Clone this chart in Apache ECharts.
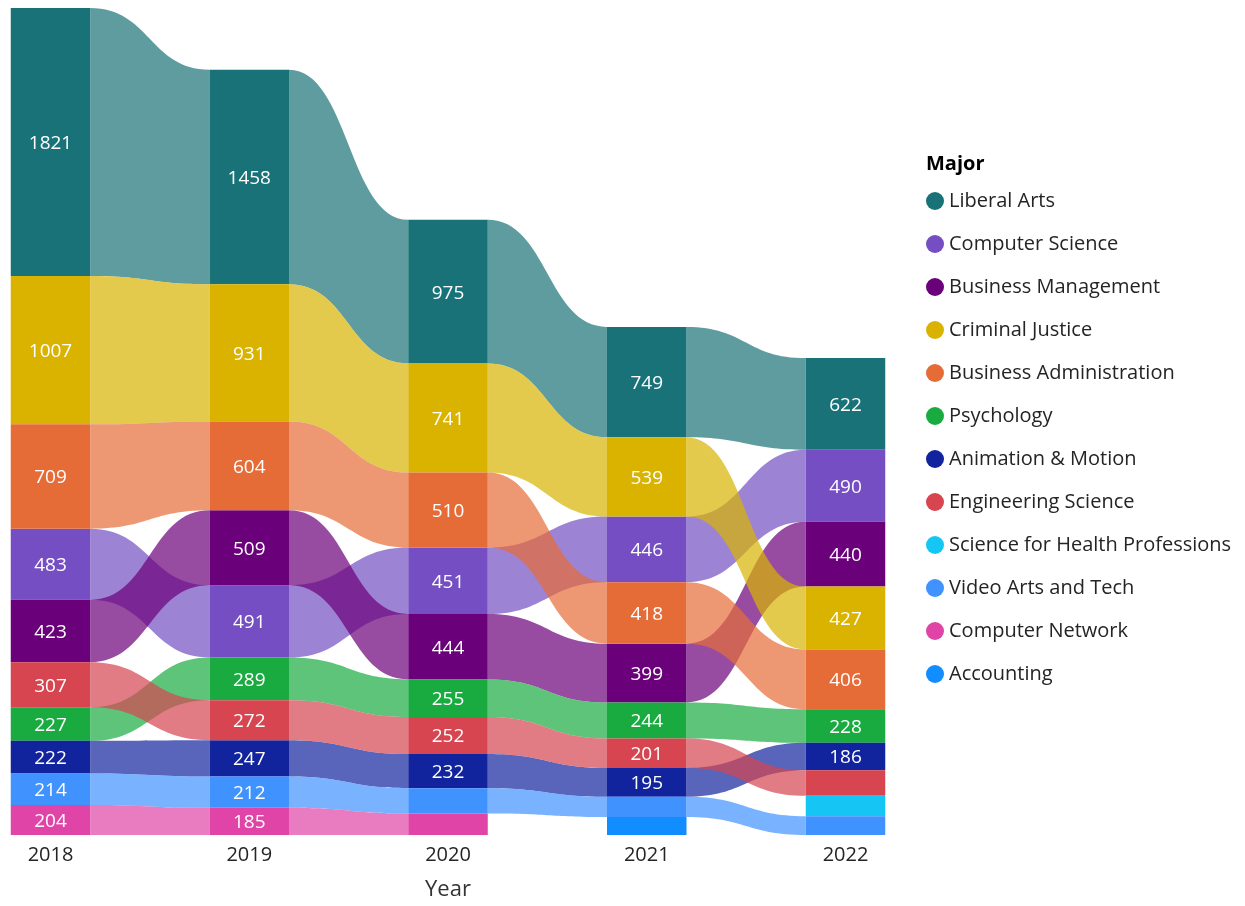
<!DOCTYPE html>
<html>
<head>
<meta charset="utf-8">
<title>Major by Year</title>
<script src="https://cdn.jsdelivr.net/npm/echarts@6/dist/echarts.min.js"></script>
<style>
  html, body { margin: 0; padding: 0; background: #fff; }
  #chart { width: 1245px; height: 906px; }
</style>
</head>
<body>
<div id="chart"></div>
<script>
const years = ['2018', '2019', '2020', '2021', '2022'];

// students per major and year, null = no students that year
const liberalArts = [1821, 1458, 975, 749, 622];
const computerScience = [483, 491, 451, 446, 490];
const businessManagement = [423, 509, 444, 399, 440];
const criminalJustice = [1007, 931, 741, 539, 427];
const businessAdministration = [709, 604, 510, 418, 406];
const psychology = [227, 289, 255, 244, 228];
const animationMotion = [222, 247, 232, 195, 186];
const engineeringScience = [307, 272, 252, 201, 174];
const scienceHealth = [null, null, null, null, 138];
const videoArts = [214, 212, 172, 138, 128];
const computerNetwork = [204, 185, 146, null, null];
const accounting = [null, null, null, 122, null];

const majors = [
  'Liberal Arts', 'Computer Science', 'Business Management', 'Criminal Justice',
  'Business Administration', 'Psychology', 'Animation & Motion', 'Engineering Science',
  'Science for Health Professions', 'Video Arts and Tech', 'Computer Network', 'Accounting'
];
const values = [
  liberalArts, computerScience, businessManagement, criminalJustice,
  businessAdministration, psychology, animationMotion, engineeringScience,
  scienceHealth, videoArts, computerNetwork, accounting
];
const colors = [
  '#197278', '#744EC2', '#6B007B', '#D9B300', '#E66C37', '#1AAB40',
  '#12239E', '#D64550', '#15C6F4', '#4092FF', '#E044A7', '#118DFF'
];

// stack each year: biggest on top
const lo = values.map(() => []);
const hi = values.map(() => []);
let maxTotal = 0;
years.forEach((_, y) => {
  const idx = values.map((v, m) => m).filter(m => values[m][y] != null);
  idx.sort((a, b) => values[a][y] - values[b][y]);
  let acc = 0;
  idx.forEach(m => {
    lo[m][y] = acc;
    acc += values[m][y];
    hi[m][y] = acc;
  });
  maxTotal = Math.max(maxTotal, acc);
});

const renderRibbon = (params, api) => {
  const yi = api.value(0);
  const pLo = api.coord([yi, api.value(1)]);
  const pHi = api.coord([yi, api.value(2)]);
  const step = api.coord([1, 0])[0] - api.coord([0, 0])[0];
  const half = step * 0.2;
  const color = api.visual('color');
  const children = [];
  if (api.value(3) >= 0) {
    const qLo = api.coord([yi + 1, api.value(3)]);
    const qHi = api.coord([yi + 1, api.value(4)]);
    const xa = pLo[0] + half;
    const xb = qLo[0] - half;
    const xm = (xa + xb) / 2;
    const d = 'M' + xa + ',' + pHi[1] +
      ' C' + xm + ',' + pHi[1] + ' ' + xm + ',' + qHi[1] + ' ' + xb + ',' + qHi[1] +
      ' L' + xb + ',' + qLo[1] +
      ' C' + xm + ',' + qLo[1] + ' ' + xm + ',' + pLo[1] + ' ' + xa + ',' + pLo[1] + ' Z';
    children.push({
      type: 'path',
      shape: { pathData: d },
      style: { fill: color, opacity: 0.7 }
    });
  }
  children.push({
    type: 'rect',
    shape: { x: pLo[0] - half, y: pHi[1], width: half * 2, height: pLo[1] - pHi[1] },
    style: { fill: color }
  });
  const v = api.value(5);
  if (v >= 180) {
    children.push({
      type: 'text',
      style: {
        text: String(v), x: pLo[0], y: (pLo[1] + pHi[1]) / 2 + 1.5,
        align: 'center', verticalAlign: 'middle',
        fill: '#fff', font: '19px "Open Sans"'
      }
    });
  }
  return { type: 'group', children };
};

const series = majors.map((name, m) => ({
  name,
  type: 'custom',
  itemStyle: { color: colors[m] },
  renderItem: renderRibbon,
  encode: { x: 0, y: [1, 2] },
  data: years
    .map((_, y) => {
      const v = values[m][y];
      if (v == null) return null;
      const hasNext = y + 1 < years.length && values[m][y + 1] != null;
      return [y, lo[m][y], hi[m][y], hasNext ? lo[m][y + 1] : -1, hasNext ? hi[m][y + 1] : -1, v];
    })
    .filter(d => d)
}));

const chart = echarts.init(document.getElementById('chart'));
chart.setOption({
  animation: false,
  color: colors,
  textStyle: { fontFamily: 'Open Sans' },
  title: {
    text: 'Major',
    left: 921,
    top: 149,
    textStyle: { fontSize: 20, fontWeight: 'bold', color: '#000', fontFamily: 'Open Sans' }
  },
  legend: {
    orient: 'vertical',
    left: 921,
    top: 186,
    icon: 'circle',
    itemWidth: 18,
    itemHeight: 18,
    itemGap: 23,
    textStyle: { fontSize: 20, lineHeight: 20, color: '#252423', fontFamily: 'Open Sans' },
    data: majors
  },
  grid: { left: 50.5, right: 399.5, top: 8, bottom: 71 },
  xAxis: {
    type: 'category',
    data: years,
    boundaryGap: false,
    axisLine: { show: false },
    axisTick: { show: false },
    splitLine: { show: false },
    axisLabel: { fontSize: 20, color: '#252423', margin: 10 },
    name: 'Year',
    nameLocation: 'middle',
    nameGap: 44,
    nameTextStyle: { fontSize: 22, fontWeight: 500, color: '#333' }
  },
  yAxis: { type: 'value', min: 0, max: maxTotal, show: false },
  series
});
</script>
</body>
</html>
